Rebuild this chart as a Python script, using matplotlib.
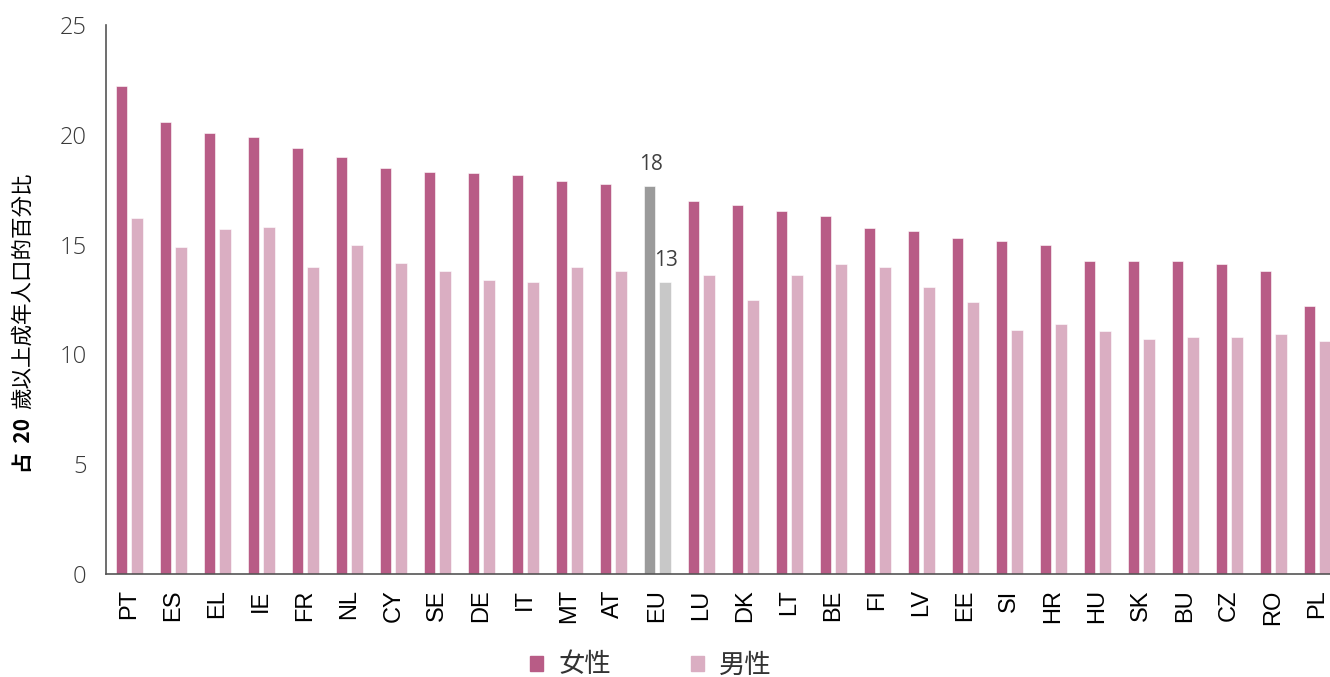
import matplotlib
matplotlib.use("Agg")
import matplotlib.pyplot as plt
import numpy as np
from matplotlib.patches import Patch

countries = ["PT", "ES", "EL", "IE", "FR", "NL", "CY", "SE", "DE", "IT", "MT", "AT", "EU",
             "LU", "DK", "LT", "BE", "FI", "LV", "EE", "SI", "HR", "HU", "SK", "BU", "CZ", "RO", "PL"]
female = [22.2, 20.6, 20.1, 19.9, 19.4, 19.0, 18.5, 18.3, 18.25, 18.15, 17.9, 17.75, 17.65,
          17.0, 16.8, 16.55, 16.3, 15.75, 15.6, 15.3, 15.15, 15.0, 14.25, 14.25, 14.25, 14.1, 13.8, 12.2]
male = [16.2, 14.9, 15.7, 15.8, 14.0, 15.0, 14.15, 13.8, 13.4, 13.3, 14.0, 13.8, 13.3,
        13.6, 12.5, 13.6, 14.1, 14.0, 13.05, 12.4, 11.1, 11.4, 11.05, 10.7, 10.8, 10.8, 10.95, 10.6]
eu_labels = ["18", "13"]
legend_labels = ["女性", "男性"]
ylabel_bold = "占  20"
ylabel_rest = "歲以上成年人口的百分比"

c_f, c_m = "#B85C86", "#DAAEC2"
c_fe, c_me = "#9B9B9B", "#C8C8C8"

fig = plt.figure(figsize=(13.3, 6.77), dpi=100)
ax = fig.add_axes([106/1330, 1-574/677, 1-106/1330, (574-25)/677])

x = np.arange(len(countries))
w = 0.26
off = 0.173
fcols = [c_fe if c == "EU" else c_f for c in countries]
mcols = [c_me if c == "EU" else c_m for c in countries]
ax.bar(x - off, female, width=w, color=fcols, edgecolor="white", linewidth=0.4)
ax.bar(x + off, male, width=w, color=mcols, edgecolor="white", linewidth=0.4)

ax.set_xlim(-0.53, 27.29)
ax.set_ylim(0, 25)
ax.set_yticks([0, 5, 10, 15, 20, 25])
ax.set_yticklabels(["0", "5", "10", "15", "20", "25"], fontsize=17, color="#3a3a3a",
                   fontfamily="Open Sans", fontweight="light")
ax.tick_params(axis="y", length=0, pad=14)
ax.set_xticks(x)
ax.set_xticklabels(countries, rotation=90, fontsize=17, color="black",
                   fontfamily="Liberation Sans")
ax.tick_params(axis="x", length=0, pad=11)
for s in ["top", "right"]:
    ax.spines[s].set_visible(False)
for s in ["left", "bottom"]:
    ax.spines[s].set_color("#555555")
    ax.spines[s].set_linewidth(1.2)

i_eu = countries.index("EU")
ax.annotate(eu_labels[0], (x[i_eu] - off, female[i_eu]), xytext=(1, 8), textcoords="offset points",
            ha="center", va="bottom", fontsize=15, color="#404040", fontfamily="Open Sans")
ax.annotate(eu_labels[1], (x[i_eu] + off, male[i_eu]), xytext=(1, 8), textcoords="offset points",
            ha="center", va="bottom", fontsize=15, color="#404040", fontfamily="Open Sans")

# y label in two parts
fam = ["Noto Sans CJK TC", "DejaVu Sans"]
t1 = fig.text(23/1330, 1-473/677, ylabel_bold, rotation=90, ha="center", va="bottom",
              fontsize=15, fontweight="bold", family=fam)
fig.canvas.draw()
bb = t1.get_window_extent()
top_px = bb.y1
fig.text(23/1330, (top_px + 9)/fig.bbox.height, ylabel_rest, rotation=90, ha="center", va="bottom",
         fontsize=15.5, family=fam)

handles = [Patch(color=c_f), Patch(color=c_m)]
leg = fig.legend(handles, legend_labels, loc="center", bbox_to_anchor=(651/1330, 1-665/677),
                 ncol=2, frameon=False, handlelength=0.5, handleheight=0.5,
                 columnspacing=3.05, handletextpad=0.55,
                 prop={"family": "Noto Sans CJK TC", "size": 19})
for t in leg.get_texts():
    t.set_color("#333333")

fig.savefig("out.png", dpi=100)
